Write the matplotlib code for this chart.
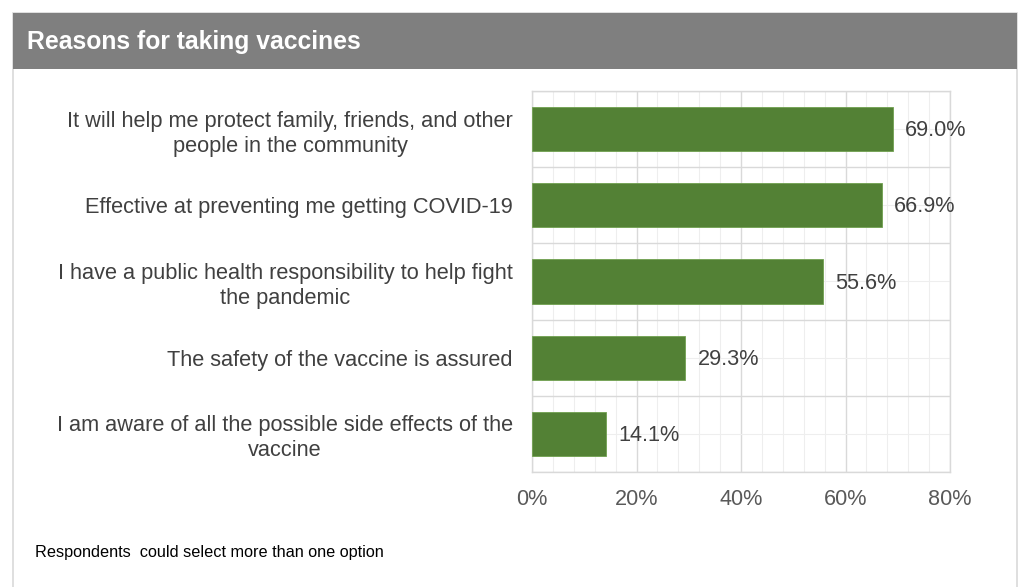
import matplotlib
matplotlib.use("Agg")
import matplotlib.pyplot as plt
from matplotlib.patches import Rectangle
from matplotlib.ticker import MultipleLocator, FuncFormatter

plt.rcParams['font.family'] = ['Liberation Sans', 'DejaVu Sans']

title = "Reasons for taking vaccines"
categories = [
    "It will help me protect family, friends, and other\npeople in the community",
    "Effective at preventing me getting COVID-19",
    "I have a public health responsibility to help fight\nthe pandemic",
    "The safety of the vaccine is assured",
    "I am aware of all the possible side effects of the\nvaccine",
]
values = [69.0, 66.9, 55.6, 29.3, 14.1]
xticks = [0, 20, 40, 60, 80]
footnote = "Respondents  could select more than one option"

W, H = 1020, 587
fig = plt.figure(figsize=(W / 100, H / 100), dpi=100)
fig.patch.set_facecolor("white")

def fx(px):
    return px / W

def fy(py):
    return 1 - py / H

# outer frame
fig.add_artist(Rectangle((fx(13), fy(600)), fx(1017) - fx(13), fy(13) - fy(600),
                         transform=fig.transFigure, facecolor="none",
                         edgecolor="#d9d9d9", linewidth=1.2, zorder=0))
# title bar
fig.add_artist(Rectangle((fx(13), fy(69)), fx(1017) - fx(13), fy(13) - fy(69),
                         transform=fig.transFigure, facecolor="#7f7f7f",
                         edgecolor="none", zorder=1))
fig.text(fx(27), fy(42), title, color="white", fontsize=17.8, fontweight="bold",
         va="center", ha="left")

ax = fig.add_axes([fx(532), fy(472), fx(950) - fx(532), fy(91) - fy(472)])
n = len(categories)
ypos = list(range(n))
ax.barh(ypos, values, height=0.58, color="#538135", edgecolor="#70a050",
        linewidth=0.6, zorder=3)
ax.set_xlim(0, 80)
ax.set_ylim(n - 0.5, -0.5)

ax.xaxis.set_major_locator(MultipleLocator(20))
ax.xaxis.set_minor_locator(MultipleLocator(4))
ax.set_xticks(xticks)
ax.xaxis.set_major_formatter(FuncFormatter(lambda v, p: f"{v:.0f}%"))
ax.set_yticks(ypos)
ax.set_yticklabels(categories, multialignment="center", linespacing=1.25)
ax.set_yticks([i + 0.5 for i in range(-1, n)], minor=True)

ax.grid(which="major", axis="x", color="#d9d9d9", linewidth=1.0, zorder=0)
ax.grid(which="minor", axis="x", color="#eeeeee", linewidth=0.8, zorder=0)
ax.grid(which="minor", axis="y", color="#d9d9d9", linewidth=1.0, zorder=0)
ax.grid(which="major", axis="y", color="#eeeeee", linewidth=0.8, zorder=0)
ax.set_axisbelow(True)

for s in ax.spines.values():
    s.set_color("#d9d9d9")
    s.set_linewidth(1.0)

ax.tick_params(axis="both", which="both", length=0)
ax.tick_params(axis="y", pad=13.7, labelsize=15.7, labelcolor="#404040")
ax.tick_params(axis="x", pad=12, labelsize=15.6, labelcolor="#595959")

for y, v in zip(ypos, values):
    ax.text(v + 2.4, y + 0.02, f"{v:.1f}%", va="center", ha="left",
            fontsize=15.6, color="#404040")

fig.text(fx(35), fy(552), footnote, fontsize=11.7, color="#000000",
         va="center", ha="left")

fig.savefig("out.png", dpi=100)
